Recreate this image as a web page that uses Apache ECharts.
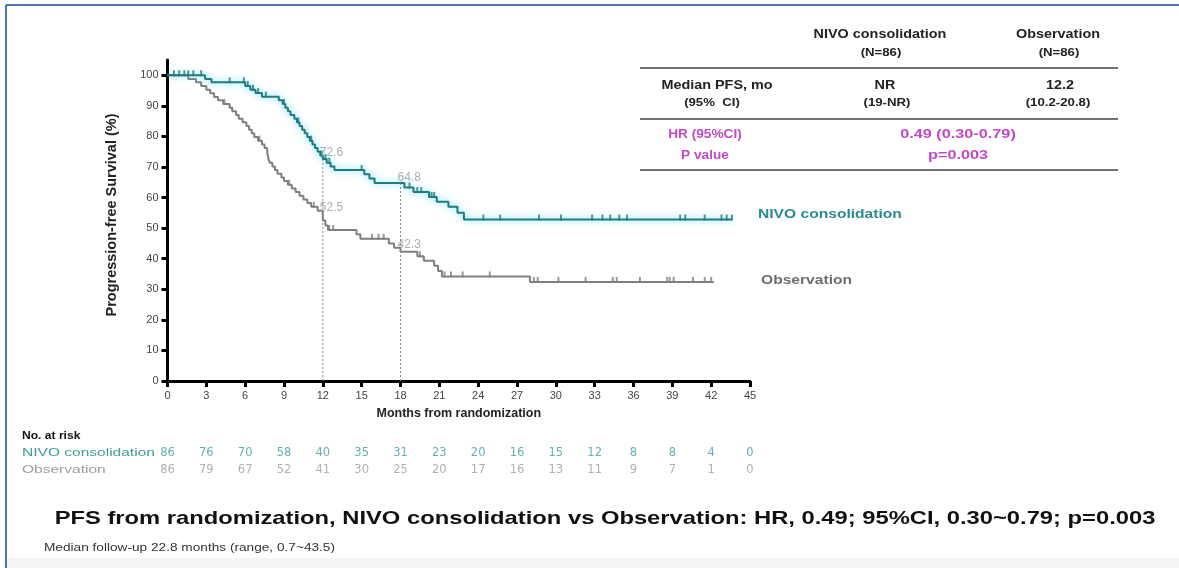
<!DOCTYPE html>
<html>
<head>
<meta charset="utf-8">
<title>PFS from randomization</title>
<script src="https://cdn.jsdelivr.net/npm/echarts@6/dist/echarts.min.js"></script>
<style>
  html, body { margin: 0; padding: 0; background: #fff; }
  #chart { width: 1179px; height: 568px; }
</style>
</head>
<body>
<div id="chart"></div>
<script>
// Axis ticks
const MONTH_TICKS = [0, 3, 6, 9, 12, 15, 18, 21, 24, 27, 30, 33, 36, 39, 42, 45];
const SURV_TICKS = [0, 10, 20, 30, 40, 50, 60, 70, 80, 90, 100];

// Kaplan-Meier steps: time of each drop (months) and survival after it (%)
const NIVO_TIME = [0, 2.9, 3.4, 6.0, 6.4, 6.8, 7.3, 8.6, 8.9, 9.1, 9.3, 9.5, 9.8, 10.0, 10.2, 10.4, 10.6, 10.8, 11.0, 11.2, 11.4, 11.6, 11.8, 12.0, 12.3, 12.6, 12.9, 15.2, 15.6, 16.0, 18.3, 19.0, 20.2, 20.8, 21.7, 22.4, 22.9];
const NIVO_SURV = [100, 98.8, 97.7, 96.5, 95.3, 94.2, 93.0, 91.8, 90.6, 89.4, 88.2, 87.0, 85.8, 84.6, 83.4, 82.2, 81.0, 79.8, 78.6, 77.4, 76.2, 75.0, 73.8, 72.6, 71.4, 70.2, 69.0, 67.6, 66.2, 64.8, 63.3, 61.8, 60.2, 58.6, 57.0, 55.0, 52.8];
const NIVO_END = 43.6;
const NIVO_CENSOR = [0.5, 0.9, 1.3, 1.6, 2.0, 2.6, 4.8, 5.9, 6.2, 6.6, 7.0, 7.6, 9.0, 10.1, 11.1, 11.9, 12.2, 12.5, 15.0, 18.7, 19.3, 19.6, 20.4, 20.6, 24.4, 25.7, 28.7, 30.4, 32.8, 33.6, 34.2, 34.9, 35.5, 39.6, 40.0, 41.5, 42.8, 43.2, 43.6];

const OBS_TIME = [0, 1.6, 2.2, 2.6, 3.0, 3.3, 3.6, 3.9, 4.3, 4.8, 5.0, 5.3, 5.5, 5.8, 6.1, 6.3, 6.5, 6.7, 7.0, 7.3, 7.5, 7.7, 7.75, 7.8, 7.9, 8.1, 8.3, 8.5, 8.8, 9.0, 9.3, 9.6, 9.9, 10.2, 10.5, 10.8, 11.1, 11.6, 12.0, 12.2, 12.4, 14.6, 14.9, 17.1, 17.5, 18.0, 19.3, 19.8, 20.6, 20.9, 21.2, 28.0];
const OBS_SURV = [100, 98.8, 97.7, 96.5, 95.3, 94.1, 92.9, 91.8, 90.6, 89.4, 88.2, 87.0, 85.8, 84.6, 83.4, 82.2, 81.0, 79.8, 78.6, 77.4, 76.2, 75.0, 73.8, 72.6, 71.4, 70.2, 69.0, 67.8, 66.6, 65.4, 64.2, 63.0, 61.8, 60.6, 59.4, 58.2, 57.0, 55.7, 52.5, 50.9, 49.4, 48.0, 46.5, 45.0, 43.6, 42.3, 40.8, 39.3, 37.7, 36.0, 34.2, 32.4];
const OBS_END = 42.2;
const OBS_CENSOR = [4.4, 7.1, 9.4, 11.3, 12.5, 12.8, 15.8, 16.3, 16.7, 19.5, 21.4, 21.9, 22.8, 24.9, 28.3, 28.6, 30.2, 32.3, 34.4, 34.7, 36.5, 38.6, 38.8, 39.1, 40.6, 41.5, 42.0];

// Landmark estimates at 12 and 18 months
const LANDMARK_MONTHS = [12, 18];
const NIVO_LANDMARK = [72.6, 64.8];
const OBS_LANDMARK = [52.5, 42.3];

// Numbers at risk, one per month tick
const RISK_ROWS = ['NIVO consolidation', 'Observation'];
const RISK_NIVO = [86, 76, 70, 58, 40, 35, 31, 23, 20, 16, 15, 12, 8, 8, 4, 0];
const RISK_OBS = [86, 79, 67, 52, 41, 30, 25, 20, 17, 16, 13, 11, 9, 7, 1, 0];

const TEAL = '#1f7b7e';
const TEAL_TEXT = '#2a8b8c';
const GRAY = '#7f7f7f';
const MAGENTA = '#c04ac4';
const FONT = '"Liberation Sans", Arial, sans-serif';
const WIDE = '"DejaVu Sans", "Liberation Sans", sans-serif';

function stepData(times, surv, end) {
  const d = times.map((t, i) => [t, surv[i]]);
  d.push([end, surv[surv.length - 1]]);
  return d;
}
function survAt(times, surv, t) {
  let v = surv[0];
  for (let i = 0; i < times.length; i++) { if (times[i] <= t) v = surv[i]; }
  return v;
}
function censorData(cens, times, surv) {
  return cens.map(t => [t, survAt(times, surv, t)]);
}

const chart = echarts.init(document.getElementById('chart'), null, { renderer: 'canvas' });

const axisTextStyle = { color: '#444', fontSize: 11, fontFamily: FONT };

// text element; sx widens the glyphs horizontally around the anchor
function txt(x, y, text, font, fill, align, sx) {
  return {
    type: 'text', x: x, y: y, scaleX: sx || 1, silent: true,
    style: { text: text, font: font, fill: fill, textAlign: align || 'center', textVerticalAlign: 'middle' }
  };
}
function hline(x1, x2, y, color, w) {
  return { type: 'line', silent: true, shape: { x1: x1, y1: y, x2: x2, y2: y }, style: { stroke: color, lineWidth: w } };
}

const option = {
  backgroundColor: '#ffffff',
  animation: false,
  grid: [
    { left: 167.5, right: 429, top: 60, bottom: 187 },
    { left: 167.5, right: 429, top: 444.5, height: 34 }
  ],
  xAxis: [
    {
      type: 'value', gridIndex: 0, min: 0, max: 45, interval: 3,
      name: 'Months from randomization', nameLocation: 'middle', nameGap: 26,
      nameTextStyle: { fontWeight: 'bold', fontSize: 12.5, color: '#222', fontFamily: FONT },
      axisLine: { lineStyle: { color: '#000', width: 3 } },
      axisTick: { length: 6, lineStyle: { color: '#000', width: 3 } },
      axisLabel: { ...axisTextStyle, margin: 9, customValues: MONTH_TICKS },
      splitLine: { show: false }
    },
    {
      type: 'value', gridIndex: 1, min: 0, max: 45, interval: 3, show: false
    }
  ],
  yAxis: [
    {
      type: 'value', gridIndex: 0, min: 0, max: 105,
      axisLine: { show: true, lineStyle: { color: '#000', width: 3 } },
      axisTick: { show: true, length: 6, lineStyle: { color: '#000', width: 3 }, customValues: SURV_TICKS },
      axisLabel: { ...axisTextStyle, margin: 9, customValues: SURV_TICKS },
      splitLine: { show: false }
    },
    {
      type: 'category', gridIndex: 1, data: RISK_ROWS, inverse: true, show: false
    }
  ],
  series: [
    // dotted landmark guides
    ...LANDMARK_MONTHS.map((m, i) => ({
      type: 'line', xAxisIndex: 0, yAxisIndex: 0, silent: true, symbol: 'none',
      data: [[m, 0], [m, NIVO_LANDMARK[i]]],
      lineStyle: { color: '#8a8a8a', width: 1, type: [2, 2] }, z: 1
    })),
    {
      name: 'Observation', type: 'line', step: 'end', symbol: 'none',
      data: stepData(OBS_TIME, OBS_SURV, OBS_END),
      lineStyle: { color: GRAY, width: 2 }, z: 3
    },
    {
      name: 'NIVO consolidation', type: 'line', step: 'end', symbol: 'none',
      data: stepData(NIVO_TIME, NIVO_SURV, NIVO_END),
      lineStyle: { color: TEAL, width: 2, shadowColor: 'rgba(80,215,240,0.95)', shadowBlur: 7 }, z: 4
    },
    {
      type: 'scatter', symbol: 'rect', symbolSize: [2, 6], symbolOffset: [0, -2],
      data: censorData(OBS_CENSOR, OBS_TIME, OBS_SURV),
      itemStyle: { color: GRAY }, z: 5
    },
    {
      type: 'scatter', symbol: 'rect', symbolSize: [2, 6], symbolOffset: [0, -2],
      data: censorData(NIVO_CENSOR, NIVO_TIME, NIVO_SURV),
      itemStyle: { color: TEAL }, z: 6
    },
    // landmark value labels
    {
      type: 'scatter', symbolSize: 0, silent: true, z: 7,
      data: LANDMARK_MONTHS.map((m, i) => ({ value: [m, NIVO_LANDMARK[i]], label: { offset: [-3, i === 0 ? -6 : -5] } }))
        .concat(LANDMARK_MONTHS.map((m, i) => ({ value: [m, OBS_LANDMARK[i]], label: { offset: [-3, i === 0 ? -13 : -7] } }))),
      label: {
        show: true, position: 'right', distance: 0,
        formatter: p => p.value[1].toFixed(1),
        color: '#9a9a9a', fontSize: 12, fontFamily: FONT
      }
    },
    // numbers at risk
    {
      type: 'scatter', xAxisIndex: 1, yAxisIndex: 1, symbolSize: 0, silent: true,
      data: MONTH_TICKS.map((m, i) => [m, 0, RISK_NIVO[i]]),
      label: { show: true, position: 'inside', formatter: p => p.value[2], color: '#3f9c96', fontSize: 11.5, fontFamily: WIDE }
    },
    {
      type: 'scatter', xAxisIndex: 1, yAxisIndex: 1, symbolSize: 0, silent: true,
      data: MONTH_TICKS.map((m, i) => [m, 1, RISK_OBS[i]]),
      label: { show: true, position: 'inside', formatter: p => p.value[2], color: '#9c9c9c', fontSize: 11.5, fontFamily: WIDE }
    }
  ],
  graphic: [
    // frame
    { type: 'line', silent: true, shape: { x1: 6, y1: 5, x2: 1179, y2: 5 }, style: { stroke: '#4d74b4', lineWidth: 2 } },
    { type: 'line', silent: true, shape: { x1: 6, y1: 5, x2: 6, y2: 568 }, style: { stroke: '#4d74b4', lineWidth: 2 } },
    { type: 'rect', silent: true, shape: { x: 7, y: 558, width: 1172, height: 10 }, style: { fill: '#f3f4f4' } },

    // y axis title
    {
      type: 'text', x: 112, y: 215, rotation: Math.PI / 2, silent: true,
      style: { text: 'Progression-free Survival (%)', font: 'bold 14.5px ' + FONT, fill: '#222', textAlign: 'center', textVerticalAlign: 'middle' }
    },

    // curve names
    txt(758, 214, 'NIVO consolidation', 'bold 13px ' + FONT, TEAL_TEXT, 'left', 1.2),
    txt(761, 280, 'Observation', 'bold 13px ' + FONT, '#6e6e6e', 'left', 1.2),

    // summary table
    txt(880, 35, 'NIVO consolidation', 'bold 12px ' + FONT, '#222', 'center', 1.2),
    txt(881, 53, '(N=86)', 'bold 11px ' + FONT, '#222', 'center', 1.2),
    txt(1058, 35, 'Observation', 'bold 12px ' + FONT, '#222', 'center', 1.2),
    txt(1059, 53, '(N=86)', 'bold 11px ' + FONT, '#222', 'center', 1.2),
    hline(640, 1118, 68, '#444', 1.5),
    txt(717, 86, 'Median PFS, mo', 'bold 12px ' + FONT, '#222', 'center', 1.2),
    txt(712, 103, '(95%  CI)', 'bold 11px ' + FONT, '#222', 'center', 1.2),
    txt(885, 86, 'NR', 'bold 12px ' + FONT, '#222', 'center', 1.2),
    txt(887, 103, '(19-NR)', 'bold 11px ' + FONT, '#222', 'center', 1.2),
    txt(1060, 86, '12.2', 'bold 12px ' + FONT, '#222', 'center', 1.2),
    txt(1058, 103, '(10.2-20.8)', 'bold 11px ' + FONT, '#222', 'center', 1.2),
    hline(640, 1118, 119, '#444', 1.5),
    txt(705, 134, 'HR (95%CI)', 'bold 13px ' + FONT, MAGENTA, 'center', 1.05),
    txt(705, 155, 'P value', 'bold 13px ' + FONT, MAGENTA, 'center', 1.05),
    txt(958, 134, '0.49 (0.30-0.79)', 'bold 13px ' + FONT, MAGENTA, 'center', 1.25),
    txt(958, 155, 'p=0.003', 'bold 13px ' + FONT, MAGENTA, 'center', 1.25),
    hline(640, 1118, 170, '#444', 1.5),

    // numbers at risk headings
    txt(22, 436, 'No. at risk', 'bold 10.5px ' + FONT, '#111', 'left', 1.15),
    txt(22, 453, 'NIVO consolidation', '11.5px ' + FONT, '#3f9c96', 'left', 1.35),
    txt(22, 470, 'Observation', '11.5px ' + FONT, '#9c9c9c', 'left', 1.35),

    // footer
    txt(605, 519, 'PFS from randomization, NIVO consolidation vs Observation: HR, 0.49; 95%CI, 0.30~0.79; p=0.003', 'bold 19px ' + FONT, '#111', 'center', 1.25),
    txt(44, 548, 'Median follow-up 22.8 months (range, 0.7~43.5)', '10.5px ' + FONT, '#333', 'left', 1.3)
  ]
};

chart.setOption(option);
</script>
</body>
</html>
